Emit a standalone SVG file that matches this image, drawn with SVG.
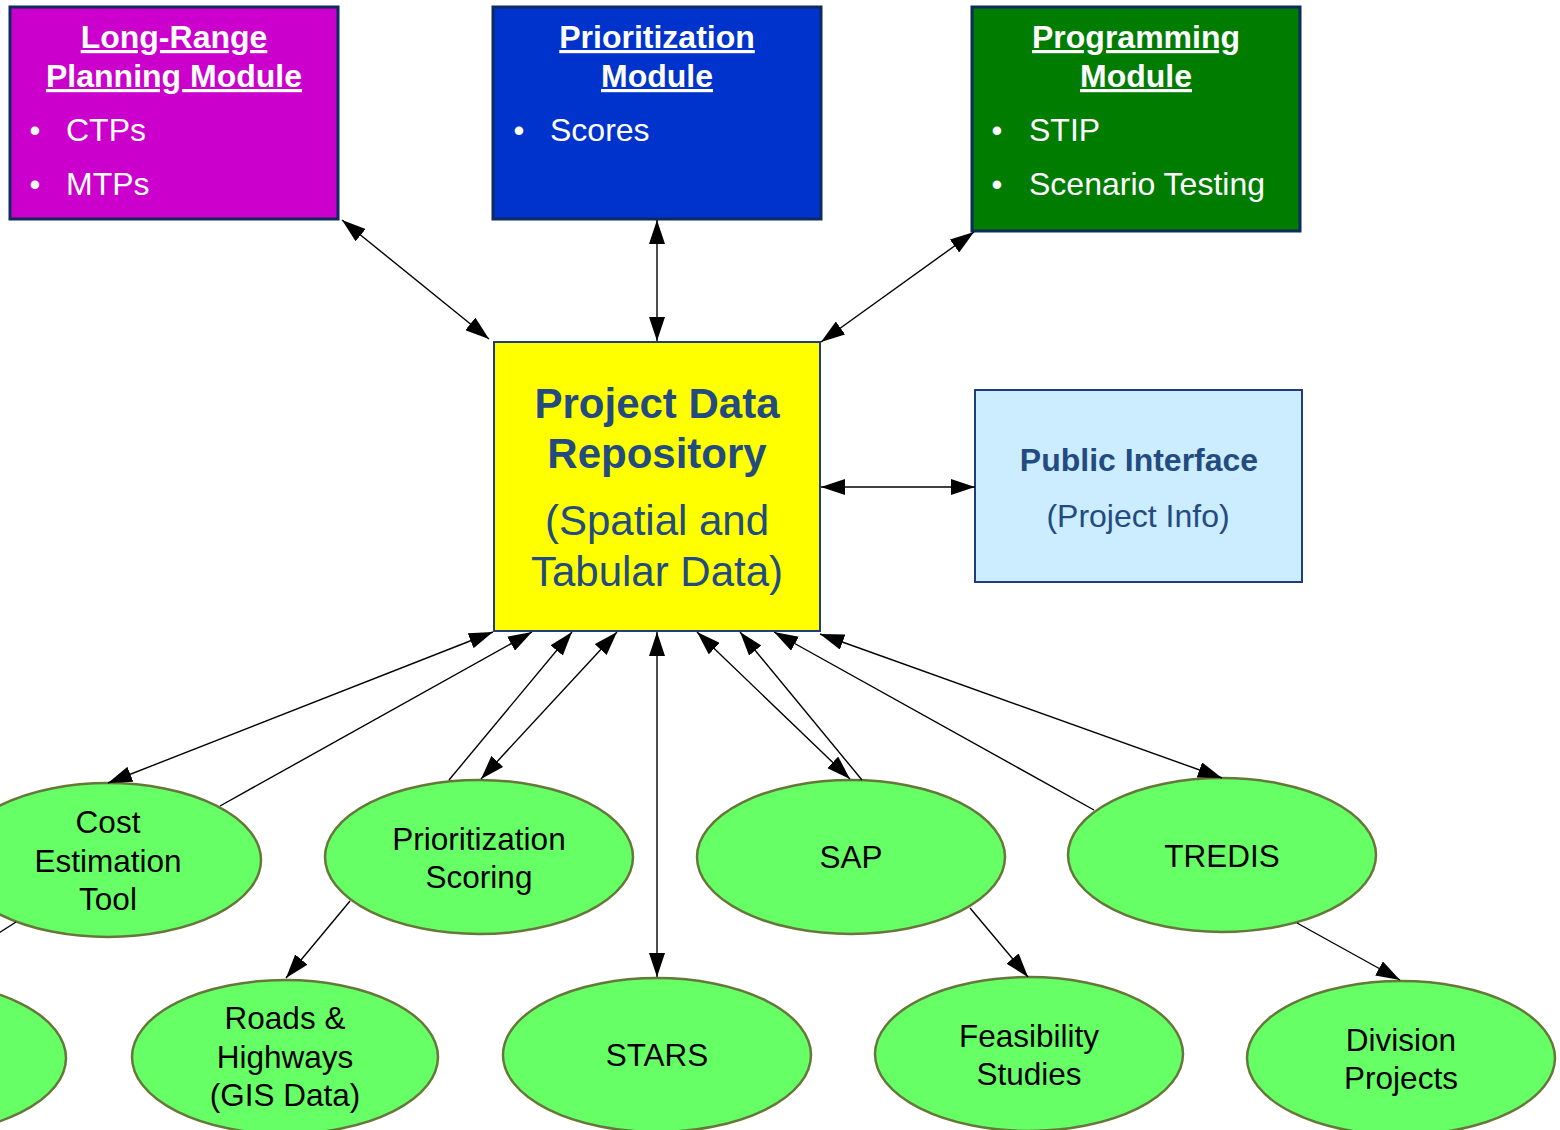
<svg xmlns="http://www.w3.org/2000/svg" width="1560" height="1130" viewBox="0 0 1560 1130">
<style>
text{font-family:"Liberation Sans",Arial,sans-serif}
.box{stroke:#0E2A5E;stroke-width:3}
.ttl{font-size:32px;font-weight:bold;fill:#fff;text-anchor:middle;text-decoration:underline}
.bul{font-size:32px;fill:#fff}
.bdot{font-size:31px;fill:#fff;text-anchor:middle}
.ell{fill:#66FF66;stroke:#66773A;stroke-width:2.5}
.et{font-size:31.5px;fill:#000;text-anchor:middle}
.dk{fill:#234B80;text-anchor:middle}
.cn{fill:none;stroke:#000;stroke-width:1.4}
</style>
<defs>
<marker id="ah" viewBox="0 0 24 16" refX="24" refY="8" markerWidth="24" markerHeight="16" markerUnits="userSpaceOnUse" orient="auto-start-reverse">
<path d="M0,0 L24,8 L0,16 z" fill="#000"/>
</marker>
</defs>
<rect width="1560" height="1130" fill="#fff"/>

<g id="lrp">
<rect class="box" x="10" y="7" width="328" height="212" fill="#CC00CC"/>
<text class="ttl" x="174" y="48">Long-Range</text>
<text class="ttl" x="174" y="87">Planning Module</text>
<text class="bdot" x="35" y="141">•</text><text class="bul" x="66" y="141">CTPs</text>
<text class="bdot" x="35" y="195">•</text><text class="bul" x="66" y="195">MTPs</text>
</g>
<g id="prio">
<rect class="box" x="493" y="7" width="328" height="212" fill="#0033CC"/>
<text class="ttl" x="657" y="48">Prioritization</text>
<text class="ttl" x="657" y="87">Module</text>
<text class="bdot" x="519" y="141">•</text><text class="bul" x="550" y="141">Scores</text>
</g>
<g id="prog">
<rect class="box" x="972" y="7" width="328" height="224" fill="#007C00"/>
<text class="ttl" x="1136" y="48">Programming</text>
<text class="ttl" x="1136" y="87">Module</text>
<text class="bdot" x="997" y="141">•</text><text class="bul" x="1029" y="141">STIP</text>
<text class="bdot" x="997" y="195">•</text><text class="bul" x="1029" y="195">Scenario Testing</text>
</g>
<g id="repo">
<rect x="494" y="342" width="326" height="289" fill="#FFFF00" stroke="#1F3E7A" stroke-width="2"/>
<text class="dk" x="657" y="418" font-size="42" font-weight="bold">Project Data</text>
<text class="dk" x="657" y="468" font-size="42" font-weight="bold">Repository</text>
<text class="dk" x="657" y="535" font-size="42">(Spatial and</text>
<text class="dk" x="657" y="586" font-size="42">Tabular Data)</text>
</g>
<g id="public">
<rect x="975" y="390" width="327" height="192" fill="#CCECFF" stroke="#1F3E7A" stroke-width="2"/>
<text class="dk" x="1139" y="471" font-size="32" font-weight="bold">Public Interface</text>
<text class="dk" x="1138" y="527" font-size="32">(Project Info)</text>
</g>

<g id="cost"><ellipse class="ell" cx="108" cy="860" rx="153" ry="77"/>
<text class="et" x="108" y="833">Cost</text><text class="et" x="108" y="872">Estimation</text><text class="et" x="108" y="910">Tool</text></g>
<g id="scoring"><ellipse class="ell" cx="479" cy="857" rx="154" ry="77"/>
<text class="et" x="479" y="850">Prioritization</text><text class="et" x="479" y="888">Scoring</text></g>
<g id="sap"><ellipse class="ell" cx="851" cy="857" rx="154" ry="77"/>
<text class="et" x="851" y="868">SAP</text></g>
<g id="tredis"><ellipse class="ell" cx="1222" cy="855" rx="154" ry="77"/>
<text class="et" x="1222" y="867">TREDIS</text></g>
<g id="partial"><ellipse class="ell" cx="-88" cy="1058" rx="154" ry="77"/></g>
<g id="roads"><ellipse class="ell" cx="285" cy="1057" rx="153" ry="77"/>
<text class="et" x="285" y="1029">Roads &amp;</text><text class="et" x="285" y="1068">Highways</text><text class="et" x="285" y="1106">(GIS Data)</text></g>
<g id="stars"><ellipse class="ell" cx="657" cy="1055" rx="154" ry="77"/>
<text class="et" x="657" y="1066">STARS</text></g>
<g id="feas"><ellipse class="ell" cx="1029" cy="1054" rx="154" ry="77"/>
<text class="et" x="1029" y="1047">Feasibility</text><text class="et" x="1029" y="1085">Studies</text></g>
<g id="division"><ellipse class="ell" cx="1401" cy="1058" rx="154" ry="77"/>
<text class="et" x="1401" y="1051">Division</text><text class="et" x="1401" y="1089">Projects</text></g>

<g id="connectors">
<path class="cn" d="M342,220 L489,339" marker-start="url(#ah)" marker-end="url(#ah)"/>
<path class="cn" d="M657,220 L657,341" marker-start="url(#ah)" marker-end="url(#ah)"/>
<path class="cn" d="M974,232 L821,342" marker-start="url(#ah)" marker-end="url(#ah)"/>
<path class="cn" d="M821,487 L975,487" marker-start="url(#ah)" marker-end="url(#ah)"/>
<path class="cn" d="M493,632 L108,783" marker-start="url(#ah)" marker-end="url(#ah)"/>
<path class="cn" d="M220,806 L532,632" marker-end="url(#ah)"/>
<path class="cn" d="M449,780 L572,632" marker-end="url(#ah)"/>
<path class="cn" d="M617,632 L481,779" marker-start="url(#ah)" marker-end="url(#ah)"/>
<path d="M657,977 L657,632" fill="none" stroke="#4D4D4D" stroke-width="2" marker-start="url(#ah)" marker-end="url(#ah)"/>
<path class="cn" d="M697,632 L850,779" marker-start="url(#ah)" marker-end="url(#ah)"/>
<path class="cn" d="M862,780 L740,632" marker-end="url(#ah)"/>
<path class="cn" d="M1094,810 L774,632" marker-end="url(#ah)"/>
<path class="cn" d="M820,634 L1222,778" marker-start="url(#ah)" marker-end="url(#ah)"/>
<path class="cn" d="M350,901 L286,978" marker-end="url(#ah)"/>
<path class="cn" d="M970,908 L1028,977" marker-end="url(#ah)"/>
<path class="cn" d="M1297,923 L1400,980" marker-end="url(#ah)"/>
<path class="cn" d="M-40,958 L16,922"/>
</g>
</svg>
